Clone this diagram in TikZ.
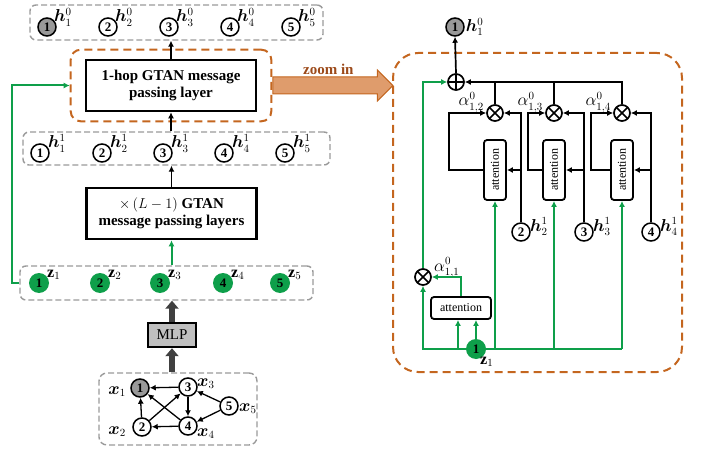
\documentclass[tikz,border=0pt]{standalone}
\usepackage{amsmath}
\usepackage{fontspec}
\setmainfont{Liberation Serif}
\usepackage{bm}
\usepackage{graphicx}
\usepackage{xcolor}
\usepackage{tikz}
\usetikzlibrary{arrows.meta,positioning,calc,fit,shapes.arrows}
\definecolor{gtgreen}{HTML}{0E9F4A}
\definecolor{gtorange}{HTML}{C4661F}
\definecolor{gtzoom}{HTML}{DF9C6C}
\definecolor{gtbrown}{HTML}{9C4A1A}
\definecolor{gtdash}{HTML}{9A9A9A}
\tikzset{
  arr/.style={-{Latex[length=6pt,width=6pt]}, line width=1.7pt},
  garr/.style={arr, line width=2pt, draw=gtgreen, color=gtgreen},
  gline/.style={line width=2pt, draw=gtgreen},
  fatarr/.style={-{Triangle[length=8pt,width=13pt]}, line width=6pt, draw=black!75},
  vnode/.style={circle, draw, line width=1.5pt, fill=white, minimum size=18pt,
    inner sep=0pt, font=\fontsize{13}{13}\selectfont\bfseries},
  vroot/.style={vnode, fill=black!40},
  znode/.style={circle, fill=gtgreen, minimum size=20pt, inner sep=0pt,
    font=\fontsize{13}{13}\selectfont\bfseries},
  nlab/.style={inner sep=0pt, font=\fontsize{16}{16}\selectfont},
  rowbox/.style={draw=gtdash, dash pattern=on 6pt off 3pt, line width=1.4pt,
    rounded corners=6pt},
  zoombox/.style={draw=gtorange, dash pattern=on 8pt off 5pt, line width=2pt},
  layer/.style={draw, line width=2.6pt, align=center, minimum width=170pt,
    minimum height=51pt, font=\fontsize{15}{17}\selectfont\bfseries},
  mlpbox/.style={draw, line width=2.4pt, fill=black!25, minimum width=48pt,
    minimum height=24pt, inner sep=0pt, font=\fontsize{15}{15}\selectfont},
  attn/.style={draw, line width=1.8pt, rounded corners=3pt, fill=white,
    inner sep=0pt, font=\fontsize{12}{12}\selectfont},
  mult/.style={circle, draw, line width=1.7pt, minimum size=16pt, inner sep=0pt,
    path picture={\draw[line width=1.7pt]
      (path picture bounding box.north west) -- (path picture bounding box.south east)
      (path picture bounding box.north east) -- (path picture bounding box.south west);}},
  addnode/.style={circle, draw, line width=1.7pt, minimum size=16pt, inner sep=0pt,
    path picture={\draw[line width=1.7pt]
      (path picture bounding box.north) -- (path picture bounding box.south)
      (path picture bounding box.east) -- (path picture bounding box.west);}},
  zarrow/.style={single arrow, draw=gtorange, line width=1pt, fill=gtzoom,
    single arrow head extend=7pt, inner xsep=0pt, inner ysep=8pt, minimum width=0pt},
  zoomtxt/.style={font=\fontsize{15}{15}\selectfont\bfseries, text=gtbrown, inner sep=0pt}
}

\begin{document}
\begin{tikzpicture}[x=1pt, y=-1pt]
    \useasboundingbox (0,0) rectangle (709,449);

    % left column: node rows and layers
    \node[rowbox, minimum width=293pt, minimum height=35pt] (row0) at (176.5,22.5) {};
    \foreach \i/\x/\s in {1/47/vroot,2/108/vnode,3/169/vnode,4/230/vnode,5/291/vnode} {
        \node[\s] (t\i) at (\x,27) {\i};
        \node[nlab, anchor=base west] (t\i l) at ($(t\i)+(7,-5)$) {$\bm{h}^0_{\i}$};
    }

    \node[layer] (hop) at (171,85.5) {1-hop GTAN message\\passing layer};
    \node[zoombox, rounded corners=10pt, fit=(hop), inner xsep=14pt, inner ysep=9pt] (hopzoom) {};

    \node[rowbox, minimum width=307pt, minimum height=33pt] (row1) at (176.5,148.5) {};
    \foreach \i/\x in {1/40,2/102,3/163,4/224,5/285} {
        \node[vnode] (u\i) at (\x,153) {\i};
        \node[nlab, anchor=base west] (u\i l) at ($(u\i)+(8,-5)$) {$\bm{h}^1_{\i}$};
    }

    \node[layer] (deep) at (171.5,213.5) {$\times\,(L-1)$ GTAN\\message passing layers};

    \node[rowbox, minimum width=293pt, minimum height=34pt] (rowz) at (166.5,283) {};
    \foreach \i/\x in {1/39,2/100,3/160,4/223,5/280} {
        \node[znode] (z\i) at (\x,283) {\i};
        \node[nlab, anchor=base west] (z\i l) at ($(z\i)+(8,-6)$) {$\mathbf{z}_{\i}$};
    }

    \node[mlpbox] (mlp) at (172,335) {MLP};

    % input graph
    \node[rowbox, rounded corners=8pt, minimum width=158pt, minimum height=72pt] (graph) at (178,409) {};
    \node[vroot] (g1) at (140,388) {1};
    \node[vnode] (g2) at (142,427) {2};
    \node[vnode] (g3) at (188,387) {3};
    \node[vnode] (g4) at (188,426) {4};
    \node[vnode] (g5) at (229,406) {5};
    \node[nlab, anchor=base east] (g1l) at ($(g1)+(-14,6)$) {$\bm{x}_1$};
    \node[nlab, anchor=base east] (g2l) at ($(g2)+(-16,7)$) {$\bm{x}_2$};
    \node[nlab, anchor=base west] (g3l) at ($(g3)+(9,-1)$) {$\bm{x}_3$};
    \node[nlab, anchor=base west] (g4l) at ($(g4)+(9,10)$) {$\bm{x}_4$};
    \node[nlab, anchor=base west] (g5l) at ($(g5)+(10,5)$) {$\bm{x}_5$};
    \foreach \a/\b in {g3/g1,g2/g1,g4/g1,g2/g3,g3/g4,g4/g2,g5/g3,g5/g4}
        \draw[arr, line width=1.3pt] (\a) -- (\b);

    \draw[arr] (hop.north) -- (hop.north |- row0.south);
    \draw[arr] (hop.south |- row1.north) -- (hop.south);
    \draw[arr] (deep.north) -- (deep.north |- row1.south);
    \draw[garr] (deep.south |- rowz.north) -- (deep.south);
    \draw[fatarr] (mlp.north) -- (mlp.north |- rowz.south);
    \draw[fatarr] (mlp.south |- graph.north) -- (mlp.south);
    \draw[garr] (rowz.west) -- ++(-7,0) |- (hopzoom.west);

    % zoomed view of one message passing step
    \node[zoombox, rounded corners=25pt, minimum width=289pt, minimum height=319pt] (bigzoom) at (537.5,212.5) {};
    \node[zarrow, anchor=tail, minimum height=120pt] (zoomarr) at (hopzoom.east) {};
    \node[zoomtxt, anchor=base] (zoomlab) at ($(hopzoom.east)+(56,-11)$) {zoom in};

    \node[vroot] (o1) at (455,27) {1};
    \node[nlab, anchor=west] (o1l) at ($(o1.east)+(1,0)$) {$\bm{h}^0_1$};
    \node[addnode] (sum) at (456,82) {};
    \node[mult] (m1) at (423,277) {};
    \node[attn, minimum width=60pt, minimum height=22pt] (att1) at (461,308) {attention};
    \node[znode] (zc) at (476,349) {1};
    \node[nlab, anchor=base west] (zcl) at ($(zc)+(4,15)$) {$\mathbf{z}_1$};
    \node[nlab, anchor=base west] (a1l) at ($(m1)+(11,-6)$) {$\alpha^0_{1,1}$};

    \foreach \j/\xa/\xn/\xl in {2/495/521/449,3/554/584/528,4/622/651/591} {
        \node[mult] (m\j) at (\xa,113) {};
        \node[attn, minimum width=22pt, minimum height=60pt] (att\j) at (\xa,170) {\rotatebox{90}{attention}};
        \node[vnode] (n\j) at (\xn,232) {\j};
        \node[nlab, anchor=base west] (n\j l) at ($(n\j)+(9,-1)$) {$\bm{h}^1_{\j}$};
        \node[nlab, anchor=base east] (a\j l) at ($(m\j.west)+(-2,-7)$) {$\alpha^0_{1,\j}$};
        \coordinate (k\j) at (\xl,170);
    }

    \draw[arr] (sum.north) -- (o1.south);
    \foreach \j in {2,3,4} {
        \draw[arr] (n\j.north) |- (m\j.east);
        \draw[arr] (n\j |- att\j) -- (att\j.east);
        \draw[arr] (att\j.west) -- (k\j) |- (m\j.west);
    }
    \draw[line width=1.7pt] (m2.north) -- (m2 |- sum);
    \draw[line width=1.7pt] (m3.north) -- (m3 |- sum);
    \draw[arr] (m4.north) |- (sum.east);

    \draw[garr] (m1.north) |- (sum.west);
    \draw[garr] (att1.north) |- (m1.east);
    \draw[garr] (zc.west) -| (m1.south);
    \draw[garr] (zc.north) -- (zc |- att1.south);
    \coordinate (zt) at (458,349);
    \draw[garr] (zt) -- (zt |- att1.south);
    \draw[gline] (zc.east) -- (att4 |- zc);
    \foreach \j in {2,3,4}
        \draw[garr] (att\j |- zc) -- (att\j.south);
\end{tikzpicture}
\end{document}
